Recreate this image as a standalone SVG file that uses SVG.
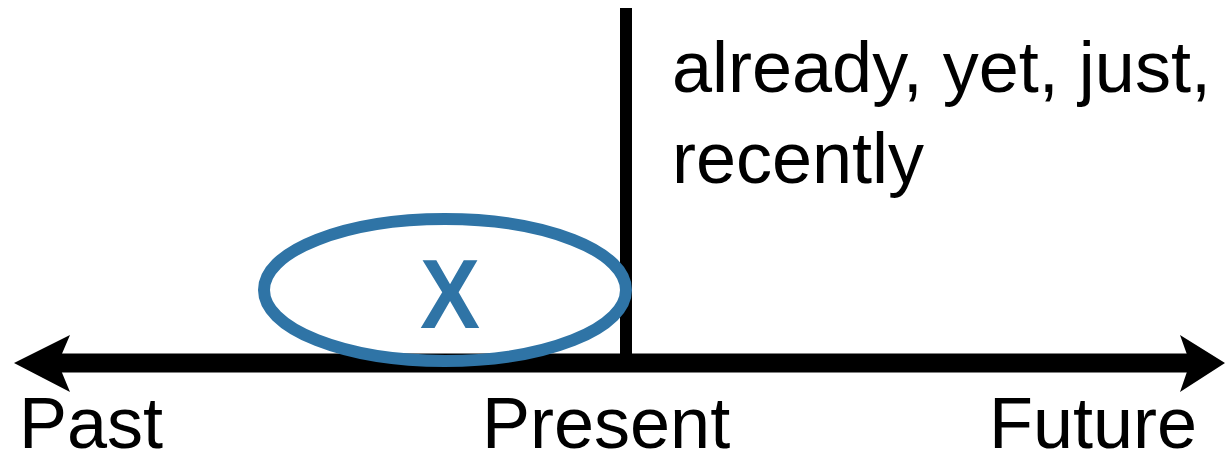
<svg xmlns="http://www.w3.org/2000/svg" width="1227" height="456" viewBox="0 0 1227 456">
  <style>
    .lbl { font-family: "Liberation Sans", Arial, Helvetica, sans-serif; font-size: 72px; fill: #000; }
    .axis { stroke: #000; stroke-width: 19; fill: none; }
    .tick { stroke: #000; stroke-width: 12; fill: none; }
    .event { stroke: #2f74a6; stroke-width: 12; fill: none; }
    .mark { font-family: "Liberation Sans", Arial, sans-serif; font-weight: bold; font-size: 98px; fill: #2f74a6; }
    .head { fill: #000; }
  </style>
  <rect width="1227" height="456" fill="#fff"/>
  <g id="connectors">
    <line class="axis" x1="55" y1="363" x2="1190" y2="363"/>
    <path class="head" d="M14,363 L70,335 L58,363 L70,392 Z"/>
    <path class="head" d="M1225,363 L1180,335 L1190,363 L1180,392 Z"/>
    <line class="tick" x1="626" y1="8" x2="626" y2="363"/>
  </g>
  <g id="event">
    <ellipse class="event" cx="445" cy="290" rx="181" ry="71"/>
    <text class="mark" x="450" y="328" text-anchor="middle" textLength="60" lengthAdjust="spacingAndGlyphs">X</text>
  </g>
  <g id="note">
    <text class="lbl" x="672" y="92">already, yet, just,</text>
    <text class="lbl" x="672" y="183">recently</text>
  </g>
  <g id="past">
    <text class="lbl" x="19" y="448">Past</text>
  </g>
  <g id="present">
    <text class="lbl" x="482" y="448">Present</text>
  </g>
  <g id="future">
    <text class="lbl" x="989" y="448">Future</text>
  </g>
</svg>
